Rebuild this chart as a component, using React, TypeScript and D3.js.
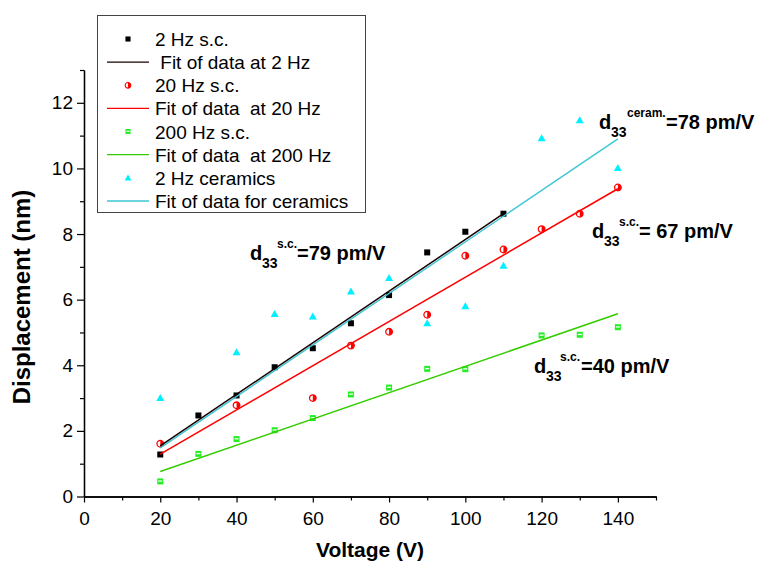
import React, { useEffect, useRef } from 'react';
import * as d3 from 'd3';

// measured points, displacement in nm vs voltage in V
const volts2Hz = [20, 30, 40, 50, 60, 70, 80, 90, 100, 110];
const disp2Hz = [1.28, 2.47, 3.08, 3.94, 4.52, 5.28, 6.14, 7.44, 8.07, 8.62];

const volts20Hz = [20, 40, 60, 70, 80, 90, 100, 110, 120, 130, 140];
const disp20Hz = [1.61, 2.78, 3.0, 4.6, 5.02, 5.54, 7.34, 7.53, 8.15, 8.62, 9.42];

const volts200Hz = [20, 30, 40, 50, 60, 70, 80, 90, 100, 120, 130, 140];
const disp200Hz = [0.46, 1.3, 1.75, 2.02, 2.39, 3.11, 3.32, 3.89, 3.88, 4.91, 4.93, 5.16];

const voltsCeram = [20, 40, 50, 60, 70, 80, 90, 100, 110, 120, 130, 140];
const dispCeram = [3.0, 4.4, 5.56, 5.49, 6.25, 6.66, 5.28, 5.8, 7.03, 10.92, 11.47, 10.01];

// linear fits, endpoints
const fit2Hz = [[20, 1.54], [110, 8.62]];
const fit20Hz = [[20, 1.29], [140, 9.38]];
const fit200Hz = [[20, 0.76], [140, 5.57]];
const fitCeram = [[20, 1.48], [140, 10.9]];

const legendLabels = [
  '2 Hz s.c.',
  ' Fit of data at 2 Hz',
  '20 Hz s.c.',
  'Fit of data  at 20 Hz',
  '200 Hz s.c.',
  'Fit of data  at 200 Hz',
  '2 Hz ceramics',
  'Fit of data for ceramics',
];

const xMajor = [0, 20, 40, 60, 80, 100, 120, 140];
const xMinor = [10, 30, 50, 70, 90, 110, 130, 150];
const yMajor = [0, 2, 4, 6, 8, 10, 12];
const yMinor = [1, 3, 5, 7, 9, 11, 13];

const FONT = '"Liberation Sans", Arial, Helvetica, sans-serif';

const width = 762;
const height = 565;

const App = () => {
  const chartRef = useRef(null);

  useEffect(() => {
    document.body.style.margin = '0';
    const svg = d3.select(chartRef.current);
    svg.selectAll('*').remove();

    const xScale = d3.scaleLinear().domain([0, 150]).range([84, 656]);
    const yScale = d3.scaleLinear().domain([0, 13]).range([496.5, 70]);

    // axes
    const axisStyle = (g) => {
      g.selectAll('.domain').attr('stroke', '#000').attr('stroke-width', 1.3);
      g.selectAll('.tick line').attr('stroke', '#000').attr('stroke-width', 1.2);
      g.selectAll('.tick text').attr('font-family', FONT).attr('font-size', 19).attr('fill', '#000');
    };

    svg.append('g')
      .attr('transform', `translate(0, ${yScale(0)})`)
      .call(d3.axisBottom(xScale).tickValues(xMajor).tickSize(6).tickSizeOuter(0).tickPadding(9))
      .call(axisStyle);
    svg.append('g')
      .attr('transform', `translate(0, ${yScale(0)})`)
      .call(d3.axisBottom(xScale).tickValues(xMinor).tickSize(4).tickSizeOuter(0).tickFormat(() => ''))
      .call(axisStyle);

    svg.append('g')
      .attr('transform', `translate(${xScale(0)}, 0)`)
      .call(d3.axisLeft(yScale).tickValues(yMajor).tickSize(7).tickSizeOuter(0).tickPadding(4))
      .call(axisStyle);
    svg.append('g')
      .attr('transform', `translate(${xScale(0)}, 0)`)
      .call(d3.axisLeft(yScale).tickValues(yMinor).tickSize(4).tickSizeOuter(0).tickFormat(() => ''))
      .call(axisStyle);

    svg.append('text')
      .attr('x', (xScale(0) + xScale(150)) / 2)
      .attr('y', 557)
      .attr('text-anchor', 'middle')
      .attr('font-family', FONT)
      .attr('font-weight', 'bold')
      .attr('font-size', 21)
      .text('Voltage (V)');

    svg.append('text')
      .attr('transform', 'translate(30, 297) rotate(-90)')
      .attr('text-anchor', 'middle')
      .attr('font-family', FONT)
      .attr('font-weight', 'bold')
      .attr('font-size', 24)
      .text('Displacement (nm)');

    // markers
    const square = (g, fill) => g.append('rect')
      .attr('x', -3).attr('y', -3).attr('width', 6).attr('height', 6).attr('fill', fill);

    const halfCircle = (g) => {
      g.append('circle').attr('r', 3.3).attr('fill', '#fff').attr('stroke', '#ff0000').attr('stroke-width', 1.3);
      g.append('path').attr('d', 'M0,-3.3 A3.3,3.3 0 0 1 0,3.3 Z').attr('fill', '#ff0000');
    };

    const greenSquare = (g) => {
      g.append('rect').attr('x', -3).attr('y', -3).attr('width', 6).attr('height', 6).attr('fill', '#22ee22');
      g.append('line').attr('x1', -2).attr('x2', 2).attr('y1', -0.3).attr('y2', -0.3)
        .attr('stroke', '#fff').attr('stroke-width', 1.3);
    };

    const triangle = (g) => g.append('path')
      .attr('d', 'M0,-4 L4,3 L-4,3 Z')
      .attr('fill', '#00f0ff');

    const line = d3.line().x(d => xScale(d[0])).y(d => yScale(d[1]));

    const plotPoints = (volts, disp, draw) => {
      svg.append('g')
        .selectAll('g')
        .data(volts.map((v, i) => [v, disp[i]]))
        .join('g')
        .attr('transform', d => `translate(${xScale(d[0])}, ${yScale(d[1])})`)
        .each(function () { draw(d3.select(this)); });
    };

    const plotFit = (fit, color, w) => {
      svg.append('path')
        .attr('d', line(fit))
        .attr('fill', 'none')
        .attr('stroke', color)
        .attr('stroke-width', w);
    };

    plotPoints(volts2Hz, disp2Hz, g => square(g, '#000'));
    plotPoints(volts20Hz, disp20Hz, halfCircle);
    plotFit(fit20Hz, '#ff0000', 1.5);
    plotPoints(volts200Hz, disp200Hz, greenSquare);
    plotFit(fit200Hz, '#33cc00', 1.5);
    plotPoints(voltsCeram, dispCeram, triangle);
    plotFit(fitCeram, '#3cc6d4', 1.4);
    plotFit(fit2Hz, '#1a0000', 1.5);

    // legend
    const legend = svg.append('g');
    legend.append('rect')
      .attr('x', 97.5).attr('y', 15.5).attr('width', 268).attr('height', 197)
      .attr('fill', '#fff').attr('stroke', '#444').attr('stroke-width', 1);

    const rowY = d3.scaleLinear().domain([0, 7]).range([39, 201]);
    const legendMarks = [
      g => square(g, '#000'),
      '#1a0000',
      halfCircle,
      '#ff0000',
      greenSquare,
      '#33cc00',
      triangle,
      '#3cc6d4',
    ];

    legendLabels.forEach((label, i) => {
      const y = rowY(i);
      const mark = legendMarks[i];
      if (typeof mark === 'string') {
        legend.append('line')
          .attr('x1', 107).attr('x2', 149).attr('y1', y).attr('y2', y)
          .attr('stroke', mark).attr('stroke-width', 1.3);
      } else {
        const g = legend.append('g').attr('transform', `translate(128, ${y}) scale(0.85)`);
        mark(g);
      }
      legend.append('text')
        .attr('x', 155)
        .attr('y', y + 7)
        .attr('font-family', FONT)
        .attr('font-size', 19)
        .style('white-space', 'pre')
        .text(label);
    });

    // d33 annotations
    const annotations = [
      { x: 599, y: 129, sup: 'ceram.', supX: 627, rest: '=78 pm/V', restX: 666 },
      { x: 250, y: 260, sup: 's.c.', supX: 277, rest: '=79 pm/V', restX: 297 },
      { x: 592, y: 238, sup: 's.c.', supX: 619, rest: '= 67 pm/V', restX: 639 },
      { x: 534, y: 373, sup: 's.c.', supX: 560, rest: '=40 pm/V', restX: 581 },
    ];

    annotations.forEach(a => {
      const t = svg.append('g')
        .attr('font-family', FONT)
        .attr('font-weight', 'bold')
        .style('white-space', 'pre');
      t.append('text').attr('x', a.x).attr('y', a.y).attr('font-size', 20).text('d');
      t.append('text').attr('x', a.x + 12).attr('y', a.y + 8).attr('font-size', 14).text('33');
      t.append('text').attr('x', a.supX).attr('y', a.y - 12).attr('font-size', 12).text(a.sup);
      t.append('text').attr('x', a.restX).attr('y', a.y).attr('font-size', 20).text(a.rest);
    });
  });

  return (
    <svg
      viewBox={`0 0 ${width} ${height}`}
      width={width}
      height={height}
      style={{ display: 'block', background: '#fff' }}
      ref={chartRef}
    />
  );
};

export default App;
